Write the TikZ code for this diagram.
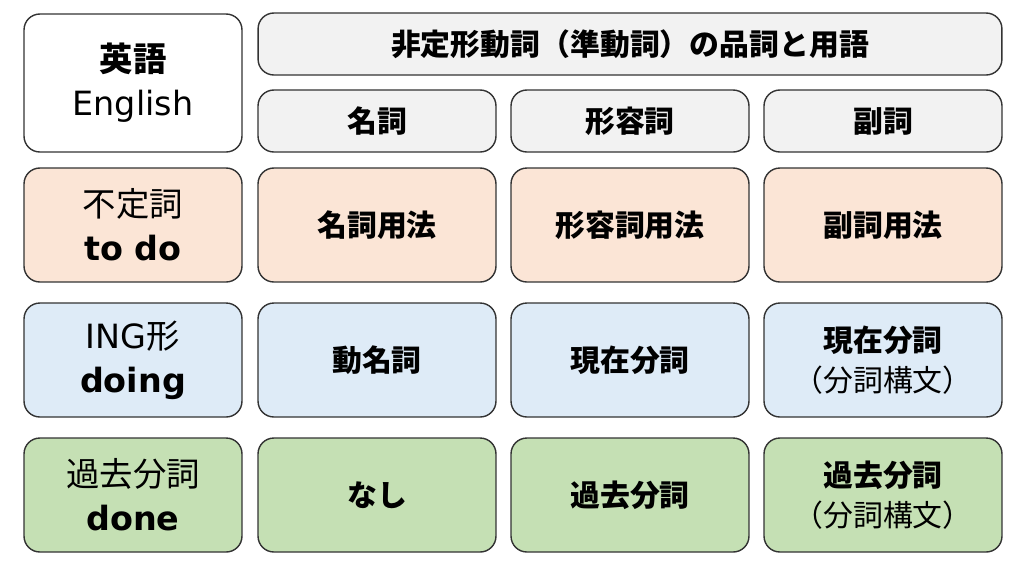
\documentclass[tikz,border=0pt]{standalone}
\usepackage{fontspec}
\setmainfont{Noto Sans CJK JP}
\newfontfamily\latinfont{DejaVu Sans}
\usetikzlibrary{positioning}
\definecolor{cellgray}{HTML}{F2F2F2}
\definecolor{cellorange}{HTML}{FBE5D6}
\definecolor{cellblue}{HTML}{DEEBF7}
\definecolor{cellgreen}{HTML}{C5E0B4}
\tikzset{
  cell/.style={draw=black!80, line width=0.8pt, rounded corners=9pt, align=center,
    minimum width=4.76cm, minimum height=2.28cm, font=\fontsize{17}{23}\selectfont\bfseries},
  headcell/.style={cell, fill=cellgray, minimum height=1.24cm},
  sidecell/.style={cell, minimum width=4.36cm, font=\fontsize{19}{25}\selectfont}
}
\begin{document}
\begin{tikzpicture}[x=0.02cm, y=-0.02cm]
        \useasboundingbox (0,0) rectangle (1024,576);

        \node[sidecell, fill=white, minimum height=2.76cm] (lang) at (133,83) {{\bfseries 英語}\\{\latinfont English}};
        \node[headcell, minimum width=14.88cm] (title) at (630,44) {非定形動詞（準動詞）の品詞と用語};

        \node[headcell] (noun) at (377,121) {名詞};
        \node[headcell] (adj) at (630,121) {形容詞};
        \node[headcell] (adv) at (883,121) {副詞};

        % to do
        \node[sidecell, fill=cellorange] (todo) at (133,225) {不定詞\\{\latinfont\bfseries to do}};
        \node[cell, fill=cellorange] (todo-n) at (377,225) {名詞用法};
        \node[cell, fill=cellorange] (todo-a) at (630,225) {形容詞用法};
        \node[cell, fill=cellorange] (todo-d) at (883,225) {副詞用法};

        % doing
        \node[sidecell, fill=cellblue] (ing) at (133,360) {{\latinfont ING}形\\{\latinfont\bfseries doing}};
        \node[cell, fill=cellblue] (ing-n) at (377,360) {動名詞};
        \node[cell, fill=cellblue] (ing-a) at (630,360) {現在分詞};
        \node[cell, fill=cellblue] (ing-d) at (883,360) {現在分詞\\{\mdseries（分詞構文）}};

        % done
        \node[sidecell, fill=cellgreen] (done) at (133,495) {過去分詞\\{\latinfont\bfseries done}};
        \node[cell, fill=cellgreen] (done-n) at (377,495) {なし};
        \node[cell, fill=cellgreen] (done-a) at (630,495) {過去分詞};
        \node[cell, fill=cellgreen] (done-d) at (883,495) {過去分詞\\{\mdseries（分詞構文）}};
\end{tikzpicture}
\end{document}
